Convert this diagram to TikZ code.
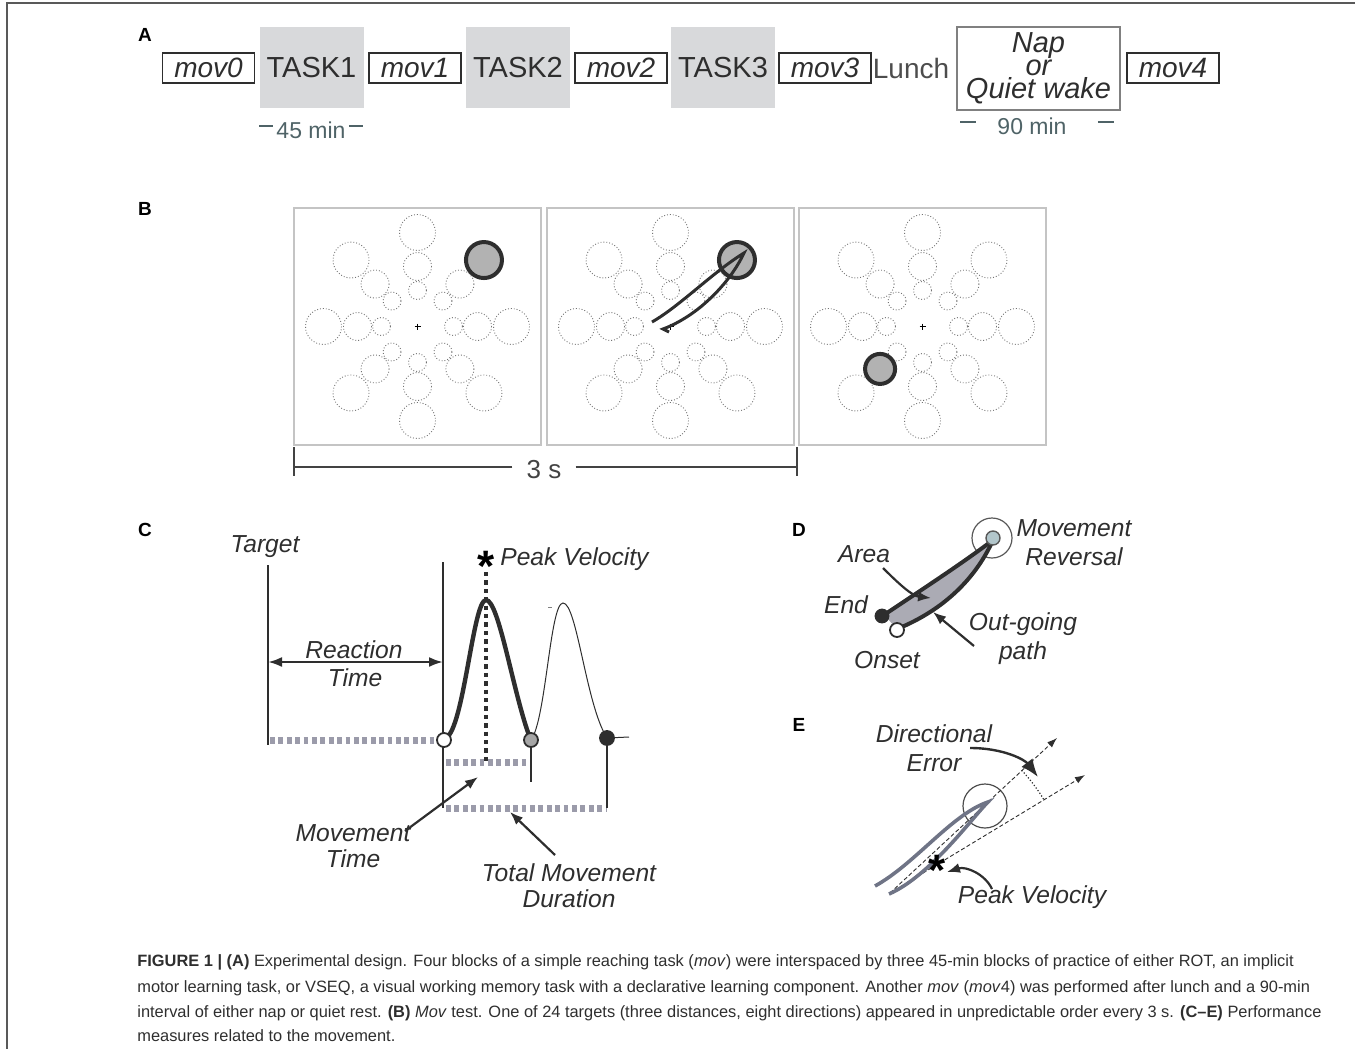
\documentclass[tikz,border=0pt]{standalone}
\usepackage{fontspec}
\setmainfont{Liberation Sans}
\usepackage{xcolor}
\usepackage{tikz}
\usetikzlibrary{arrows.meta, positioning, calc}

\definecolor{inkgray}{HTML}{2E2E2E}
\definecolor{taskfill}{HTML}{D8D9DB}
\definecolor{mingray}{HTML}{4F6367}
\definecolor{screengray}{HTML}{C4C4C4}
\definecolor{bargray}{HTML}{9B9BAA}
\definecolor{trajblue}{HTML}{6F7486}
\definecolor{revfill}{HTML}{B2C6CB}
\definecolor{areafill}{HTML}{ABABB4}

% ring of 24 targets around a centre
\newcommand{\targetring}[1]{%
  \foreach \ang in {0,45,...,315} {
    \draw[ring] (#1) ++(\ang:36) circle (9);
    \draw[ring] (#1) ++(\ang:60) circle (14);
    \draw[ring] (#1) ++(\ang:94) circle (18);
  }
  \draw[line width=0.5pt] ($(#1)+(-3,0)$) -- ($(#1)+(3,0)$);
  \draw[line width=0.5pt] ($(#1)+(0,-3)$) -- ($(#1)+(0,3)$);
}

\begin{document}
\begin{tikzpicture}[x=0.5pt, y=-0.5pt,
  panel/.style={font=\bfseries\fontsize{9.5}{10}\selectfont, inner sep=0pt},
  movbox/.style={draw=inkgray, line width=0.9pt, minimum width=46pt, minimum height=15pt,
    inner sep=0pt, text=inkgray, font=\itshape\fontsize{14}{15}\selectfont},
  taskbox/.style={fill=taskfill, minimum width=52pt, minimum height=40.5pt, inner sep=0pt,
    text=inkgray, font=\fontsize{14.5}{15}\selectfont},
  mintext/.style={text=mingray, font=\fontsize{11.5}{12}\selectfont, inner sep=0pt},
  minline/.style={draw=mingray, line width=0.8pt},
  screen/.style={draw=screengray, line width=0.7pt, minimum width=123.5pt, minimum height=118.5pt, inner sep=0pt},
  ring/.style={draw=black!55, line width=0.45pt, densely dotted},
  hittarget/.style={draw=inkgray, fill=black!30, line width=2pt},
  lbl/.style={font=\itshape\fontsize{12.3}{13}\selectfont, text=inkgray, inner sep=0pt, align=center},
  widelbl/.style={lbl, font=\itshape\fontsize{12.3}{14.6}\selectfont},
  dashbar/.style={draw=bargray, line width=3.5pt, dash pattern=on 2.4pt off 1.8pt},
  dotmark/.style={circle, draw=inkgray, line width=0.9pt, minimum size=7pt, inner sep=0pt},
  pointer/.style={draw=inkgray, line width=1.1pt, -{Latex[length=6.5pt,width=5pt]}},
  guide/.style={draw=inkgray, line width=0.45pt, dash pattern=on 2pt off 1.2pt, -{Latex[length=5pt,width=3.5pt]}},
  captext/.style={anchor=base west, inner sep=0pt, text=inkgray, font=\fontsize{8.2}{9}\selectfont}]

  \useasboundingbox (0,0) rectangle (1355,1049);

  % Outer frame
  \draw[line width=0.6pt, gray!70!black] (7,1049) -- (7,3) -- (1355,3);

  % Panel A: experimental design
  \node[panel] (lblA) at (145,35) {A};
  \node[movbox] (mov0) at (208.5,68) {mov0};
  \node[taskbox] (task1) at (311.5,67.5) {TASK1};
  \node[movbox] (mov1) at (415,68) {mov1};
  \node[taskbox] (task2) at (518,67.5) {TASK2};
  \node[movbox] (mov2) at (621,68) {mov2};
  \node[taskbox] (task3) at (723,67.5) {TASK3};
  \node[movbox] (mov3) at (825,68) {mov3};
  \node[inner sep=0pt, text=inkgray!85, font=\fontsize{14}{15}\selectfont] (lunch) at (911,68) {Lunch};
  \node[draw=gray, line width=0.7pt, minimum width=81.5pt, minimum height=41.5pt,
    inner sep=0pt, align=center, text=inkgray, font=\itshape\fontsize{14.5}{11.4}\selectfont] (nap) at (1038.5,68.5) {Nap\\or\\Quiet wake};
  \node[movbox] (mov4) at (1173,68) {mov4};

  % durations
  \node[mintext] (min45) at (311,130) {45 min};
  \draw[minline] ($(min45.west)+(-17,-4)$) -- ($(min45.west)+(-3,-4)$);
  \draw[minline] ($(min45.east)+(3,-4)$) -- ($(min45.east)+(17,-4)$);
  \node[mintext] (min90) at (1032,126) {90 min};
  \draw[minline] ($(min90.west)+(-37,-4)$) -- ($(min90.west)+(-21,-4)$);
  \draw[minline] ($(min90.east)+(31,-4)$) -- ($(min90.east)+(47,-4)$);

  % Panel B: the mov test screens
  \node[panel] (lblB) at (145,209) {B};
  \node[screen] (scr1) at (417.5,326.5) {};
  \node[screen] (scr2) at (670.5,326.5) {};
  \node[screen] (scr3) at (922.5,326.5) {};
  \targetring{scr1.center}
  \targetring{scr2.center}
  \targetring{scr3.center}
  \draw[hittarget] (scr1.center) ++(-45:94) circle (18);
  \draw[hittarget] (scr2.center) ++(-45:94) circle (18);
  \draw[hittarget] (scr3.center) ++(135:60) circle (15);

  % hand path in the middle screen
  \draw[line width=1.5pt, inkgray] (652,322) .. controls (680,306) and (713,272) .. (744,253)
    .. controls (730,283) and (698,316) .. (663,329) -- (669,332);

  % 3 s scale
  \coordinate (tickL) at (294,447);
  \coordinate (tickR) at (797,447);
  \node[mintext, text=inkgray!90, font=\fontsize{13}{13}\selectfont, inner xsep=7pt] (threes) at (544,470) {3 s};
  \draw[line width=0.8pt, inkgray!90] (tickL) -- ++(0,29);
  \draw[line width=0.8pt, inkgray!90] (tickR) -- ++(0,29);
  \draw[line width=0.8pt, inkgray!90] (threes.west |- 0,467) -- (294,467);
  \draw[line width=0.8pt, inkgray!90] (threes.east |- 0,467) -- (797,467);

  % Panel C: velocity profile
  \node[panel] (lblC) at (145,530) {C};
  \coordinate (tgtTop) at (268,565);
  \coordinate (tgtBot) at (268,745);
  \coordinate (onsTop) at (443,562);
  \coordinate (rtL) at (268,662);
  \coordinate (rtR) at (443,662);
  \coordinate (peak) at (486,600);
  \coordinate (mtEnd) at (531,762);
  \coordinate (mtTick) at (531,782);
  \coordinate (tmdL) at (443,808);
  \coordinate (tmdR) at (607,808);

  \draw[dashbar] (270,740) -- (437,740);
  \draw[dashbar] (446,762) -- (mtEnd);
  \draw[dashbar] (446,808) -- (tmdR);

  \draw[line width=1pt, inkgray] (tgtTop) -- (tgtBot);
  \draw[line width=1pt, inkgray] (onsTop) -- (tmdL);

  % second (return) peak
  \draw[line width=0.5pt, inkgray] (531,740) .. controls (546,720) and (550,603) .. (563,603)
    .. controls (577,603) and (586,705) .. (607,738) -- (629,737);
  \draw[line width=0.5pt, gray] (548,607) -- (552,607);
  % out-going peak
  \draw[line width=2.2pt, inkgray] (446,738) .. controls (464,728) and (473,600) .. (peak)
    .. controls (499,600) and (513,693) .. (530,738);
  \draw[line width=2pt, inkgray, dash pattern=on 2.2pt off 2pt] (486,572) -- (486,762);
  \node[font=\bfseries\fontsize{22}{22}\selectfont, inner sep=0pt] (star) at (486,566) {*};

  \node[dotmark, fill=white] (onset) at (444,740) {};
  \node[dotmark, fill=black!35] (mtdot) at (531,740) {};
  \node[dotmark, fill=inkgray] (enddot) at (607,738) {};
  \draw[line width=1pt, inkgray] (mtdot) -- (mtTick);
  \draw[line width=1pt, inkgray] (enddot) -- (tmdR);

  \draw[line width=1.2pt, inkgray, {Latex[length=7pt,width=5pt]}-{Latex[length=7pt,width=5pt]}] (rtL) -- (rtR);

  \node[lbl] (target) at (265,547) {Target};
  \node[lbl, anchor=west] (peakvel) at (500,559) {Peak Velocity};
  \node[lbl, fill=white, inner sep=1pt] (react) at (354,650) {Reaction};
  \node[lbl] (reactB) at (355,678) {Time};
  \node[lbl] (movtime) at (353,846) {Movement\\Time};
  \node[lbl] (totdur) at (569,886) {Total Movement\\Duration};
  \coordinate (mtHead) at (478,777);
  \coordinate (tdHead) at (510,812);
  \draw[pointer] (405,831) -- (mtHead);
  \draw[pointer] (555,855) -- (tdHead);

  % Panel D: hand path measures
  \node[panel] (lblD) at (799,530) {D};
  \coordinate (revC) at (992,538);
  \draw[line width=0.6pt, inkgray!80] (revC) circle (20);
  \fill[areafill] (884,615) .. controls (918,592) and (960,565) .. (993,540)
    .. controls (976,578) and (944,610) .. (897,629) -- cycle;
  \draw[line width=2pt, inkgray] (884,615) .. controls (918,592) and (960,565) .. (993,540);
  \draw[line width=2pt, inkgray] (993,540) .. controls (976,578) and (944,610) .. (897,629);
  \node[circle, draw=inkgray!80, line width=0.7pt, fill=revfill, minimum size=7pt, inner sep=0pt] (revdot) at (993,538) {};
  \node[dotmark, fill=inkgray, minimum size=6.5pt] (enddotD) at (882,616) {};
  \node[dotmark, fill=white, minimum size=7pt] (onsetD) at (897,630) {};
  \node[widelbl] (revlbl) at (1074,543) {Movement\\Reversal};
  \node[lbl] (arealbl) at (864,554) {Area};
  \node[lbl] (endlbl) at (846,605) {End};
  \node[lbl] (onsetlbl) at (887,660) {Onset};
  \node[widelbl] (outlbl) at (1023,639) {Out-going\\path};
  \coordinate (areaHead) at (931,598);
  \coordinate (outHead) at (933,612);
  \draw[pointer] (883,568) .. controls (898,583) and (912,596) .. (areaHead);
  \draw[pointer] (974,646) -- (outHead);

  % Panel E: directional error
  \node[panel] (lblE) at (799,725) {E};
  \coordinate (start) at (890,893);
  \coordinate (dirTip) at (1057,738);
  \coordinate (pvTip) at (1085,775);
  \draw[line width=0.6pt, inkgray!85] (985,806) circle (22);
  \draw[guide] (start) -- (dirTip);
  \draw[guide] (start) -- (pvTip);
  \draw[line width=0.6pt, inkgray, densely dotted] plot[domain=-43:-31.2, samples=12, smooth]
    ({890+180*cos(\x)}, {893+180*sin(\x)});
  \draw[line width=1.8pt, trajblue] (875,886) .. controls (915,864) and (952,814) .. (988,802)
    .. controls (972,818) and (930,876) .. (889,894);
  \node[font=\bfseries\fontsize{22}{22}\selectfont, inner sep=0pt] (starE) at (937,870) {*};
  \node[widelbl] (direrr) at (934,748) {Directional\\Error};
  \node[lbl] (pvlbl) at (1032,897) {Peak Velocity};
  \coordinate (deHead) at (1038,777);
  \coordinate (pvHead) at (947,872);
  \draw[line width=1.2pt, inkgray, -{Latex[length=9pt,width=7pt]}] (970,748) .. controls (1004,748) and (1025,760) .. (deHead);
  \draw[pointer] (992,889) .. controls (985,874) and (966,866) .. (pvHead);

  % Caption
  \node[captext] (cap1) at (137,966)
    {\textbf{FIGURE 1 | (A)} Experimental design. Four blocks of a simple reaching task (\textit{mov}) were interspaced by three 45-min blocks of practice of either ROT, an implicit};
  \node[captext] (cap2) at (137,992)
    {motor learning task, or VSEQ, a visual working memory task with a declarative learning component. Another \textit{mov} (\textit{mov}4) was performed after lunch and a 90-min};
  \node[captext] (cap3) at (137,1017)
    {interval of either nap or quiet rest. \textbf{(B)} \textit{Mov} test. One of 24 targets (three distances, eight directions) appeared in unpredictable order every 3 s. \textbf{(C--E)} Performance};
  \node[captext] (cap4) at (137,1041)
    {measures related to the movement.};
\end{tikzpicture}
\end{document}
